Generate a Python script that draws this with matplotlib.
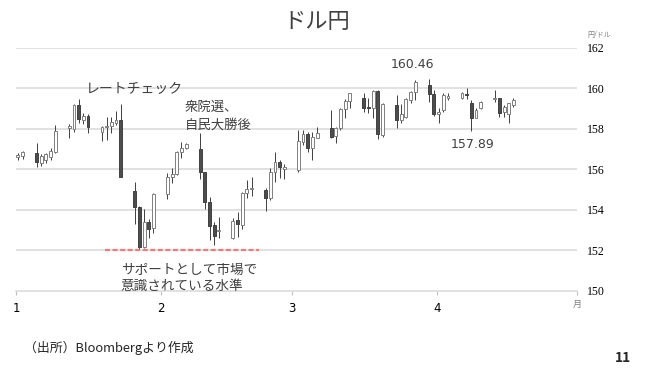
import matplotlib
matplotlib.use('Agg')
import matplotlib.pyplot as plt
import numpy as np
import pandas as pd

plt.rcParams['font.family'] = ['Noto Sans CJK JP', 'DejaVu Sans']

# daily USD/JPY candles
dates = ['01-01', '01-02', '01-05', '01-06', '01-07', '01-08', '01-09',
         '01-12', '01-13', '01-14', '01-15', '01-16',
         '01-19', '01-20', '01-21', '01-22', '01-23',
         '01-26', '01-27', '01-28', '01-29', '01-30',
         '02-02', '02-03', '02-04', '02-05', '02-06',
         '02-09', '02-10', '02-11', '02-12', '02-13',
         '02-16', '02-17', '02-18', '02-19', '02-20',
         '02-23', '02-24', '02-25', '02-26', '02-27',
         '03-02', '03-03', '03-04', '03-05', '03-06',
         '03-09', '03-10', '03-11', '03-12', '03-13',
         '03-16', '03-17', '03-18', '03-19', '03-20',
         '03-23', '03-24', '03-25', '03-26', '03-27',
         '03-30', '03-31', '04-01', '04-02', '04-03',
         '04-06', '04-07', '04-08', '04-09', '04-10',
         '04-13', '04-14', '04-15', '04-16', '04-17']
opens = [156.60, 156.65, 156.79, 156.32, 156.45, 156.62, 156.83,
         158.05, 157.97, 159.17, 158.43, 158.63,
         157.85, 158.10, 158.15, 158.27, 158.43,
         154.92, 154.15, 152.17, 153.41, 153.08,
         154.76, 155.63, 155.75, 156.86, 157.03,
         157.00, 155.85, 154.40, 153.25, 152.95,
         152.59, 153.48, 153.24, 154.81, 155.00,
         154.97, 154.56, 155.85, 156.34, 156.00,
         155.96, 157.36, 157.72, 157.03, 157.56,
         158.02, 157.65, 158.05, 158.96, 159.37,
         159.50, 159.07, 159.01, 159.86, 157.69,
         159.17, 158.43, 158.60, 159.42, 159.83,
         160.16, 159.70, 158.72, 158.92, 159.50,
         159.53, 159.73, 159.25, 158.54, 159.04,
         159.45, 159.50, 158.81, 158.71, 159.17]
highs = [156.80, 156.90, 157.31, 156.75, 156.82, 157.03, 158.18,
         158.23, 159.22, 159.45, 158.76, 158.71,
         158.15, 158.56, 158.60, 158.90, 159.22,
         155.35, 154.18, 154.03, 153.53, 154.81,
         155.80, 156.07, 156.90, 157.36, 157.28,
         157.77, 155.88, 154.61, 153.41, 153.65,
         153.60, 153.90, 154.89, 155.47, 155.63,
         155.06, 156.04, 156.83, 156.45, 156.24,
         157.94, 157.94, 157.85, 157.82, 158.10,
         158.92, 158.10, 159.01, 159.47, 159.78,
         159.75, 159.50, 159.91, 159.91, 159.25,
         159.66, 159.20, 159.50, 159.86, 160.40,
         160.46, 159.90, 159.01, 159.75, 159.75,
         159.83, 160.00, 159.42, 159.01, 159.37,
         159.91, 159.53, 159.17, 159.25, 159.50]
lows = [156.45, 156.50, 156.09, 156.16, 156.29, 156.45, 156.79,
        157.53, 157.85, 158.27, 158.22, 157.80,
        157.41, 157.44, 157.77, 158.18, 155.60,
        153.29, 152.06, 152.12, 152.59, 152.83,
        154.53, 155.30, 155.71, 156.57, 156.98,
        155.52, 154.03, 152.50, 152.26, 152.59,
        152.55, 152.67, 153.05, 154.56, 154.69,
        153.94, 154.48, 155.35, 155.58, 155.52,
        155.85, 157.19, 156.83, 156.45, 157.53,
        157.55, 157.28, 157.94, 158.54, 159.01,
        158.84, 158.76, 158.54, 157.49, 157.60,
        158.02, 158.27, 158.54, 159.25, 159.42,
        159.33, 158.65, 158.27, 158.84, 159.42,
        159.47, 159.47, 157.89, 158.51, 158.97,
        159.33, 158.59, 158.59, 158.27, 159.09]
closes = [156.70, 156.85, 156.37, 156.65, 156.75, 156.90, 157.90,
          158.15, 159.17, 158.46, 158.63, 158.10,
          158.10, 158.15, 158.32, 158.43, 155.63,
          154.15, 152.17, 153.41, 153.05, 154.76,
          155.63, 155.75, 156.83, 157.06, 157.23,
          155.88, 154.37, 153.21, 152.72, 152.98,
          153.44, 153.28, 154.81, 155.02, 155.05,
          154.59, 155.88, 156.34, 156.12, 156.12,
          157.39, 157.72, 157.06, 157.60, 157.77,
          157.60, 158.05, 158.96, 159.37, 159.75,
          159.04, 159.00, 159.86, 157.72, 159.20,
          158.43, 158.71, 159.47, 159.83, 160.32,
          159.71, 158.72, 158.85, 159.66, 159.63,
          159.75, 159.66, 158.54, 158.92, 159.33,
          159.50, 158.76, 159.09, 159.25, 159.42]

month_ticks = ['2026-01-01', '2026-02-01', '2026-03-01', '2026-04-01', '2026-05-01']
month_labels = ['1', '2', '3', '4', '']
support_level = 152.0
support_span = ['2026-01-20', '2026-02-22']
high_value = 160.46
low_value = 157.89

base = pd.Timestamp('2026-01-01')
x = np.array([(pd.Timestamp('2026-' + d) - base).days for d in dates]) + 0.4
o = np.array(opens)
h = np.array(highs)
l = np.array(lows)
c = np.array(closes)
up = c >= o

fig = plt.figure(figsize=(6.5, 3.72), dpi=100)
ax = fig.add_axes([0.0246, 0.2185, 0.8631, 0.6532])

# gridlines
for v in range(152, 163, 2):
    ax.axhline(v, color='#d9d9d9', lw=1.1, zorder=0)

# wicks
ax.vlines(x, l, h, color='#404040', lw=0.7, zorder=2)
# bodies
body_bottom = np.minimum(o, c)
body_h = np.maximum(np.abs(c - o), 0.03)
ax.bar(x[up], body_h[up], bottom=body_bottom[up], width=0.62,
       color='white', edgecolor='#7f7f7f', lw=0.7, zorder=3)
ax.bar(x[~up], body_h[~up], bottom=body_bottom[~up], width=0.62,
       color='#4d4d4d', edgecolor='#404040', lw=0.7, zorder=3)

# support line
s0 = (pd.Timestamp(support_span[0]) - base).days
s1 = (pd.Timestamp(support_span[1]) - base).days
ax.plot([s0, s1], [support_level, support_level], color='#f4787a',
        lw=1.6, ls=(0, (2.2, 1.2)), zorder=4)

ticks = [(pd.Timestamp(t) - base).days for t in month_ticks]
ax.set_xlim(0, ticks[-1])
ax.set_ylim(150, 162)
ax.set_xticks(ticks)
ax.set_xticklabels(month_labels, fontsize=8.5, family='DejaVu Sans')
ax.tick_params(axis='x', length=3, color='#bfbfbf', pad=5, direction='out')

ax.yaxis.tick_right()
ax.set_yticks(range(150, 163, 2))
ax.set_yticklabels([str(v) for v in range(150, 163, 2)],
                   fontsize=8.5, family='Liberation Serif')
ax.tick_params(axis='y', length=0, pad=7)

for s in ['top', 'left', 'right']:
    ax.spines[s].set_visible(False)
ax.spines['bottom'].set_color('#d9d9d9')
ax.spines['bottom'].set_linewidth(1.1)

txt = '#404040'
ax.text(25.4, 159.96, 'レートチェック', fontsize=10, color=txt, ha='center', va='center')
ax.text(36.1, 158.63, '衆院選、\n自民大勝後', fontsize=9.6, color=txt,
        ha='left', va='center', linespacing=1.3)
ax.text(84.8, 161.15, f'{high_value:.2f}', fontsize=9, color=txt,
        ha='center', va='center', family='DejaVu Sans')
ax.text(97.6, 157.2, f'{low_value:.2f}', fontsize=9, color=txt,
        ha='center', va='center', family='DejaVu Sans')
ax.text(22.4, 150.63, 'サポートとして市場で\n意識されている水準', fontsize=9.8,
        color=txt, ha='left', va='center', linespacing=1.15)

fig.text(317 / 650, 1 - 22 / 372, 'ドル円', fontsize=16, color='#404040',
         ha='center', va='center')
fig.text(587 / 650, 1 - 35 / 372, '円/ドル', fontsize=5, color='#7f7f7f',
         ha='left', va='center')
fig.text(577 / 650, 1 - 304 / 372, '月', fontsize=6.5, color='#7f7f7f',
         ha='center', va='center')
fig.text(24 / 650, 1 - 348 / 372, '（出所）Bloombergより作成', fontsize=9.3,
         color='#262626', ha='left', va='center')
fig.text(623 / 650, 1 - 358 / 372, '11', fontsize=10, fontweight='bold',
         color='#262626', ha='center', va='center')

fig.savefig('out.png', dpi=100)
